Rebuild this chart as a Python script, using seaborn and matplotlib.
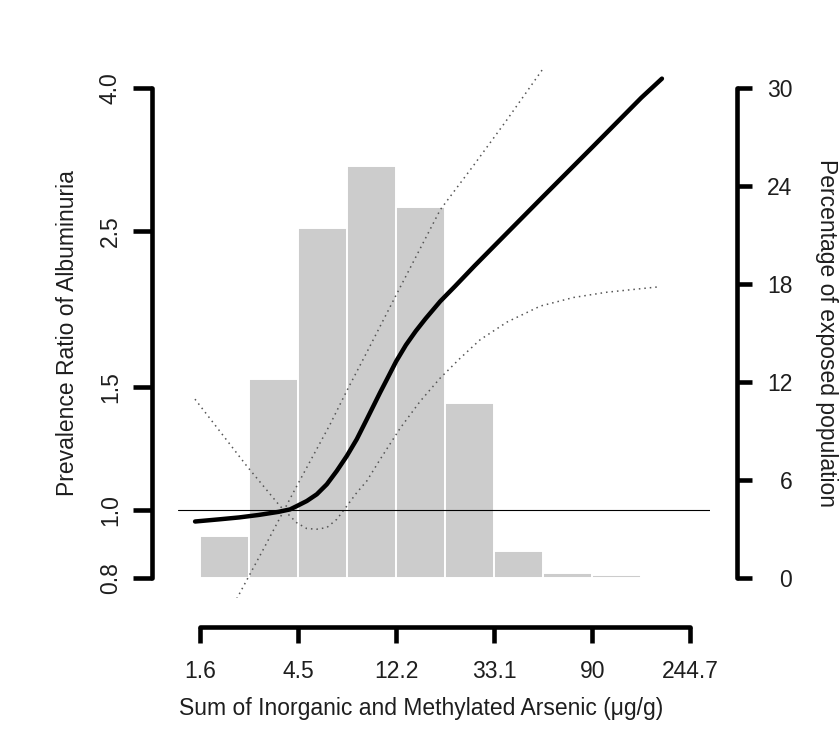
import numpy as np
import pandas as pd
import matplotlib
matplotlib.use("Agg")
import matplotlib.pyplot as plt
from matplotlib.ticker import NullLocator
import seaborn as sns

# ---------------- data ----------------
# exposure histogram (bins on the natural-log scale of total arsenic, µg/g)
bin_edges = [0.5, 1.0, 1.5, 2.0, 2.5, 3.0, 3.5, 4.0, 4.5, 5.0]
bin_centers = [0.75, 1.25, 1.75, 2.25, 2.75, 3.25, 3.75, 4.25, 4.75]
pct_population = [2.6, 12.2, 21.4, 25.2, 22.7, 10.7, 1.65, 0.35, 0.2]

# prevalence ratio spline (x = ln arsenic)
curve_ln_as = [0.45, 0.70, 0.90, 1.10, 1.30, 1.418, 1.487, 1.589, 1.691, 1.793,
               1.895, 1.997, 2.099, 2.201, 2.337, 2.42, 2.50, 2.60, 2.70, 2.80,
               2.95, 3.10, 3.30, 3.50, 4.00, 4.50, 5.00, 5.21]
curve_pr = [0.964, 0.971, 0.977, 0.985, 0.995, 1.003, 1.014, 1.031, 1.054, 1.089,
            1.138, 1.195, 1.263, 1.348, 1.472, 1.55, 1.63, 1.72, 1.80, 1.875,
            1.985, 2.085, 2.23, 2.38, 2.80, 3.29, 3.87, 4.12]

# 95% confidence limits
upper_ln_as = [0.45, 0.881, 1.146, 1.487, 1.827, 1.997, 2.201, 2.50, 2.95, 3.29,
               3.63, 4.01, 5.21]
upper_pr = [0.58, 0.751, 0.880, 1.083, 1.326, 1.48, 1.679, 2.026, 2.68, 3.10,
            3.60, 4.28, 7.7]

lower_ln_as = [0.449, 0.976, 1.316, 1.487, 1.589, 1.691, 1.793, 1.895, 1.997, 2.099,
               2.201, 2.337, 2.541, 2.745, 2.949, 3.153, 3.357, 3.633, 3.97, 4.31,
               4.65, 5.16]
lower_pr = [1.44, 1.157, 1.014, 0.960, 0.942, 0.940, 0.945, 0.971, 1.014, 1.060,
            1.101, 1.182, 1.309, 1.43, 1.543, 1.647, 1.75, 1.855, 1.954, 2.01,
            2.045, 2.08]

x_ticks = [0.5, 1.5, 2.5, 3.5, 4.5, 5.5]
x_tick_labels = ["1.6", "4.5", "12.2", "33.1", "90", "244.7"]
pr_ticks = [0.8, 1.0, 1.5, 2.5, 4.0]
pr_tick_labels = ["0.8", "1.0", "1.5", "2.5", "4.0"]
pct_ticks = [0, 6, 12, 18, 24, 30]

# ---------------- style ----------------
sns.set_style("white")
plt.rcParams["font.family"] = ["Liberation Sans", "DejaVu Sans"]
TXT = "#1e1e1e"
FS = 16.5
PX = 0.72  # points per pixel at 100 dpi

W, H = 840, 745
fig = plt.figure(figsize=(W / 100, H / 100), dpi=100)
left, right, top, bottom = 178, 710, 68, 598
ax = fig.add_axes([left / W, 1 - bottom / H, (right - left) / W, (bottom - top) / H])
ax2 = ax.twinx()
ax2.set_zorder(0)
ax.set_zorder(1)
ax.patch.set_visible(False)

# ---- histogram (right axis) ----
sns.histplot(x=bin_centers, weights=pct_population, bins=bin_edges, ax=ax2,
             color="#cccccc", edgecolor="white", linewidth=1.4, alpha=1.0, stat="count")
ax2.set_ylim(-0.04 * 30, 30 + 0.04 * 30)

# ---- curves (left axis) ----
sns.lineplot(x=upper_ln_as, y=upper_pr, ax=ax, color="#555555", lw=1.1,
             linestyle=(0, (1, 2.6)))
sns.lineplot(x=lower_ln_as, y=lower_pr, ax=ax, color="#555555", lw=1.1,
             linestyle=(0, (1, 2.6)))
ax.axhline(1.0, color="black", lw=0.8)
sns.lineplot(x=curve_ln_as, y=curve_pr, ax=ax, color="black", lw=3.2,
             solid_capstyle="round", solid_joinstyle="round")

ax.set_yscale("log")
ext = 5 ** 0.04
ax.set_ylim(0.8 / ext, 4.0 * ext)
ax.set_xlim(0.276, 5.70)

# ---- axes styling ----
ax.set_yticks(pr_ticks)
ax.set_yticklabels(pr_tick_labels)
ax.yaxis.set_minor_locator(NullLocator())
ax.set_xticks(x_ticks)
ax.set_xticklabels(x_tick_labels)
ax2.set_yticks(pct_ticks)
ax2.set_yticklabels([str(v) for v in pct_ticks])

for s in ["top", "right"]:
    ax.spines[s].set_visible(False)
for s in ["top", "left", "bottom"]:
    ax2.spines[s].set_visible(False)

LW = 3.3
ax.spines["left"].set_position(("outward", 26 * PX))
ax.spines["left"].set_bounds(0.8, 4.0)
ax.spines["bottom"].set_position(("outward", 29 * PX))
ax.spines["bottom"].set_bounds(0.5, 5.5)
ax2.spines["right"].set_position(("outward", 27 * PX))
ax2.spines["right"].set_bounds(0, 30)
for sp in [ax.spines["left"], ax.spines["bottom"], ax2.spines["right"]]:
    sp.set_linewidth(LW)
    sp.set_color("black")
    sp.set_capstyle("round")

ax.tick_params(axis="y", which="major", length=19 * PX, width=LW, color="black",
               labelsize=FS, labelcolor=TXT, pad=8, labelrotation=90, left=True)
for lab in ax.get_yticklabels():
    lab.set_va("center")
ax.tick_params(axis="x", which="major", length=16 * PX, width=LW, color="black",
               labelsize=FS, labelcolor=TXT, pad=12, bottom=True)
ax2.tick_params(axis="y", which="major", length=15 * PX, width=LW, color="black",
                labelsize=FS, labelcolor=TXT, pad=29, right=True)
for lab in ax2.get_yticklabels():
    lab.set_ha("right")

# ---- labels ----
ax.set_ylabel("Prevalence Ratio of Albuminuria", fontsize=FS, color=TXT)
ax.yaxis.set_label_coords((68 - left) / (right - left), 0.5)
ax.yaxis.label.set_va("center")

ax.set_xlabel("Sum of Inorganic and Methylated Arsenic (\u03bcg/g)", fontsize=FS, color=TXT)
ax.xaxis.set_label_coords((421 - left) / (right - left), (bottom - 708) / (bottom - top))
ax.xaxis.label.set_va("center")

ax2.set_ylabel("Percentage of exposed population", fontsize=FS, color=TXT, rotation=270)
ax2.yaxis.set_label_coords((826 - left) / (right - left), 0.5)
ax2.yaxis.label.set_va("center")
ax2.yaxis.label.set_ha("center")

ax2.set_xlabel("")
fig.savefig("out.png", dpi=100, facecolor="white")
